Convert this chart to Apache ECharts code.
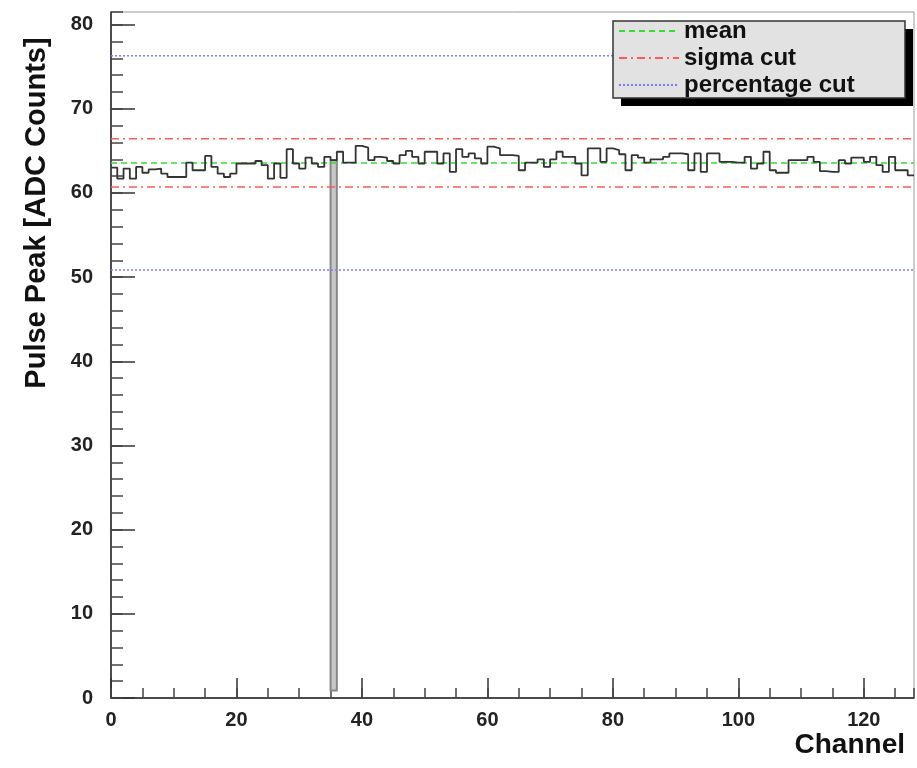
<!DOCTYPE html>
<html>
<head>
<meta charset="utf-8">
<title>Pulse Peak per Channel</title>
<script src="https://cdn.jsdelivr.net/npm/echarts@6/dist/echarts.min.js"></script>
<style>
    html, body { margin: 0; padding: 0; background: #fff; }
    #chart { width: 917px; height: 768px; }
</style>
</head>
<body>
<div id="chart"></div>
<script>
// pulse peak per channel (bin c covers [c, c+1])
var pulsePeak = [
    63.0, 61.7, 62.9, 61.7, 63.1, 62.4, 62.8, 62.9, 62.3, 61.9,
    61.9, 61.9, 63.6, 62.7, 62.7, 64.4, 63.1, 62.3, 61.9, 62.3,
    63.5, 63.5, 63.5, 63.8, 63.3, 61.7, 63.5, 61.8, 65.2, 63.5,
    62.9, 64.2, 63.5, 63.1, 64.3, 63.9, 64.9, 63.6, 63.6, 65.6,
    65.4, 63.9, 64.3, 64.2, 63.8, 63.5, 64.5, 65.0, 64.3, 63.5,
    64.9, 64.9, 63.5, 64.7, 62.5, 65.2, 64.3, 64.7, 64.1, 63.5,
    65.5, 65.3, 64.5, 64.5, 64.4, 62.7, 63.6, 63.6, 64.0, 63.1,
    64.0, 64.9, 64.3, 64.3, 63.5, 62.1, 65.3, 65.3, 63.7, 65.3,
    65.1, 64.6, 62.7, 64.5, 64.2, 63.6, 64.0, 64.0, 64.3, 64.7,
    64.7, 64.6, 62.7, 64.7, 62.5, 64.7, 64.7, 63.7, 63.7, 63.6,
    63.6, 64.3, 62.9, 63.5, 64.9, 62.7, 62.4, 62.4, 63.9, 63.9,
    63.9, 64.3, 63.7, 62.6, 62.5, 62.5, 63.9, 63.5, 64.2, 64.2,
    63.7, 64.3, 63.3, 62.5, 64.3, 62.7, 62.7, 62.1
];
var nChannels = 128;

// masked channel (grey box)
var deadChannel = 35;
var deadRange = [0.9, 63.9];

// reference levels
var meanLevel = 63.55;
var sigmaCuts = [60.7, 66.45];
var percentCuts = [50.85, 76.3];

var yMax = 81.5;
var legendNames = ['mean', 'sigma cut', 'percentage cut'];

var chart = echarts.init(document.getElementById('chart'));

var histData = pulsePeak.map(function (v, i) { return [i, v]; });
histData.push([nChannels, pulsePeak[pulsePeak.length - 1]]);

function levelLine(name, y, color, type) {
    return {
        name: name,
        type: 'line',
        symbol: 'none',
        silent: true,
        z: 3,
        itemStyle: { color: color },
        lineStyle: { color: color, width: 1.5, type: type },
        data: [[0, y], [nChannels, y]]
    };
}

var font = 'Liberation Sans, Arial, sans-serif';

var option = {
    animation: false,
    backgroundColor: '#fff',
    grid: {
        left: 111, right: 3, top: 12, bottom: 70,
        show: true, borderColor: '#999', borderWidth: 1
    },
    legend: {
        data: legendNames,
        orient: 'vertical',
        left: 618, top: 19,
        padding: 0,
        itemWidth: 60, itemHeight: 14, itemGap: 3,
        z: 10,
        itemStyle: { opacity: 0 },
        textStyle: { fontFamily: font, fontWeight: 'bold', fontSize: 24, lineHeight: 24, color: '#111' }
    },
    graphic: [
        { type: 'rect', z: 5, shape: { x: 621, y: 29, width: 292, height: 77 }, style: { fill: '#000' } },
        { type: 'rect', z: 6, shape: { x: 613, y: 21, width: 292, height: 77 },
          style: { fill: '#e2e2e2', stroke: '#333', lineWidth: 1.5 } },
        { type: 'text', z: 6, x: 37, y: 213, rotation: Math.PI / 2,
          style: { text: 'Pulse Peak [ADC Counts]', fontFamily: font, fontWeight: 'bold', fontSize: 29,
                   fill: '#111', align: 'center', verticalAlign: 'middle' } }
    ],
    xAxis: [{
        type: 'value', min: 0, max: nChannels, interval: 20,
        name: 'Channel', nameLocation: 'end', nameGap: -9,
        nameTextStyle: { fontFamily: font, fontWeight: 'bold', fontSize: 28, color: '#111',
                         align: 'right', verticalAlign: 'top', padding: [33, 0, 0, 0] },
        axisLine: { lineStyle: { color: '#222', width: 1.5 } },
        axisTick: { inside: true, length: 20, lineStyle: { color: '#333', width: 1.5 } },
        axisLabel: { fontFamily: font, fontWeight: 'bold', fontSize: 20, color: '#222', margin: 12, showMaxLabel: false },
        splitLine: { show: false }
    }, {
        type: 'value', min: 0, max: nChannels, interval: 5, position: 'bottom',
        axisLine: { show: false },
        axisTick: { inside: true, length: 10, lineStyle: { color: '#444', width: 1.5 } },
        axisLabel: { show: false },
        splitLine: { show: false }
    }],
    yAxis: [{
        type: 'value', min: 0, max: yMax, interval: 10, position: 'left',
        axisLine: { show: true, lineStyle: { color: '#222', width: 1.5 } },
        axisTick: { show: true, inside: true, length: 24, lineStyle: { color: '#333', width: 1.5 } },
        axisLabel: { fontFamily: font, fontWeight: 'bold', fontSize: 20, color: '#222', margin: 18, showMaxLabel: false },
        splitLine: { show: false }
    }, {
        type: 'value', min: 0, max: yMax, interval: 2, position: 'left',
        axisLine: { show: false },
        axisTick: { show: true, inside: true, length: 12, lineStyle: { color: '#444', width: 1.5 } },
        axisLabel: { show: false },
        splitLine: { show: false }
    }],
    series: [
        {
            name: 'pulse peak',
            type: 'line',
            step: 'end',
            symbol: 'none',
            silent: true,
            z: 4,
            lineStyle: { color: '#333', width: 1.8 },
            data: histData,
            markArea: {
                silent: true,
                itemStyle: { color: '#c8c8c8', borderColor: '#888', borderWidth: 2 },
                data: [[{ coord: [deadChannel, deadRange[0]] }, { coord: [deadChannel + 1, deadRange[1]] }]]
            }
        },
        levelLine('mean', meanLevel, '#33dd33', [6, 4]),
        levelLine('sigma cut', sigmaCuts[0], '#ff5a5a', [8, 4, 2, 4]),
        levelLine('sigma cut', sigmaCuts[1], '#ff5a5a', [8, 4, 2, 4]),
        levelLine('percentage cut', percentCuts[0], '#7a7aff', [2, 2]),
        levelLine('percentage cut', percentCuts[1], '#7a7aff', [2, 2])
    ]
};

chart.setOption(option);
</script>
</body>
</html>
